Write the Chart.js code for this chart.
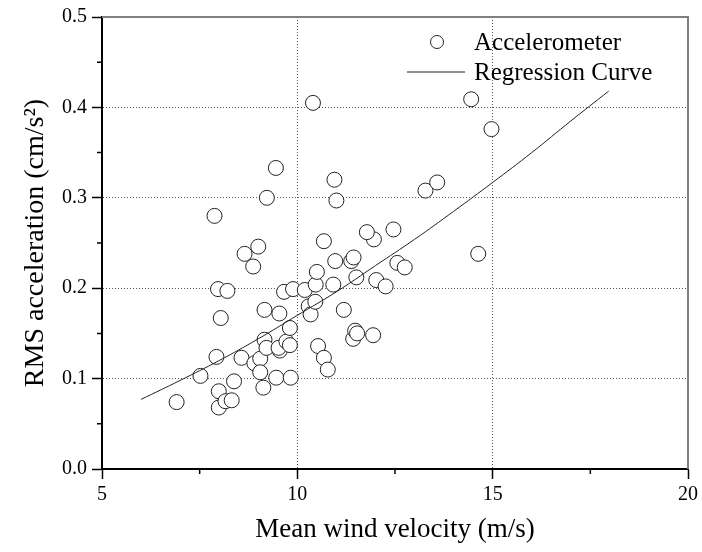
<!DOCTYPE html>
<html>
<head>
<meta charset="utf-8">
<script src="https://cdn.jsdelivr.net/npm/chart.js@4.4.1/dist/chart.umd.min.js"></script>
<style>
  html, body { margin: 0; padding: 0; background: #fff; }
  #chart { display: block; }
</style>
</head>
<body>
<canvas id="chart" width="702" height="552"></canvas>
<script>
// measured points (mean wind velocity m/s, RMS acceleration cm/s^2)
const windSpeed = [
  6.91, 7.52, 7.93, 7.97, 8.21, 8.04, 7.99, 7.99, 8.16, 8.32,
  8.38, 8.57, 8.65, 9.00, 8.87, 8.90, 9.05, 9.05, 9.13, 9.16,
  9.21, 9.16, 9.46, 9.54, 9.55, 9.52, 9.72, 9.81, 9.81, 9.83,
  9.66, 9.89, 10.19, 10.29, 10.34, 10.46, 10.47, 10.50, 10.53, 10.68,
  10.78, 10.68, 10.92, 10.97, 11.19, 11.38, 11.44, 11.51, 11.43, 11.48,
  11.53, 11.96, 11.78, 12.02, 12.26, 11.94, 12.56, 12.75, 12.46, 10.40,
  9.45, 9.22, 10.95, 11.00, 7.88, 14.45, 14.97, 13.28, 13.58, 14.63
];
const rmsAccel = [
  0.074, 0.103, 0.124, 0.199, 0.197, 0.167, 0.086, 0.068, 0.075, 0.076,
  0.097, 0.123, 0.238, 0.246, 0.224, 0.117, 0.122, 0.107, 0.090, 0.143,
  0.134, 0.176, 0.101, 0.172, 0.131, 0.134, 0.141, 0.137, 0.156, 0.101,
  0.196, 0.199, 0.198, 0.180, 0.171, 0.185, 0.204, 0.218, 0.136, 0.123,
  0.110, 0.252, 0.204, 0.230, 0.176, 0.230, 0.234, 0.212, 0.144, 0.153,
  0.150, 0.254, 0.262, 0.209, 0.202, 0.148, 0.228, 0.223, 0.265, 0.405,
  0.333, 0.300, 0.320, 0.297, 0.280, 0.409, 0.376, 0.308, 0.317, 0.238
];

// regression curve
const curveX = [6, 7, 8, 9, 10, 11, 12, 13, 14, 15, 16, 17, 17.97];
const curveY = [0.077, 0.098, 0.120, 0.144, 0.170, 0.196, 0.225, 0.254, 0.285, 0.317, 0.350, 0.385, 0.418];

const xTicks = [5, 10, 15, 20];
const xMinor = [7.5, 12.5, 17.5];
const yTicks = [0, 0.1, 0.2, 0.3, 0.4, 0.5];
const yMinor = [0.05, 0.15, 0.25, 0.35, 0.45];

const seriesNames = ['Accelerometer', 'Regression Curve'];

const FONT = "'Liberation Serif', 'Times New Roman', serif";

const gridColor = (ctx) => {
  const s = ctx.scale;
  if (!ctx.tick) return 'rgba(0,0,0,0)';
  return (ctx.tick.value === s.min || ctx.tick.value === s.max) ? 'rgba(0,0,0,0)' : '#555';
};

// minor ticks, top/right frame and the inset legend
const extras = {
  id: 'extras',
  afterDraw(chart) {
    const { ctx, chartArea: a, scales: { x, y } } = chart;
    ctx.save();

    ctx.strokeStyle = '#000';
    ctx.lineWidth = 1.5;
    ctx.beginPath();
    xMinor.forEach(v => {
      const px = x.getPixelForValue(v);
      ctx.moveTo(px, a.bottom);
      ctx.lineTo(px, a.bottom + 5);
    });
    yMinor.forEach(v => {
      const py = y.getPixelForValue(v);
      ctx.moveTo(a.left - 5, py);
      ctx.lineTo(a.left, py);
    });
    ctx.stroke();

    ctx.strokeStyle = '#808080';
    ctx.lineWidth = 2;
    ctx.beginPath();
    ctx.moveTo(a.left, a.top);
    ctx.lineTo(a.right, a.top);
    ctx.lineTo(a.right, a.bottom);
    ctx.stroke();

    // legend
    ctx.font = '25px ' + FONT;
    ctx.textBaseline = 'middle';
    ctx.textAlign = 'left';

    ctx.beginPath();
    ctx.arc(437, 42, 6.5, 0, Math.PI * 2);
    ctx.fillStyle = '#fff';
    ctx.fill();
    ctx.strokeStyle = '#222';
    ctx.lineWidth = 1;
    ctx.stroke();
    ctx.fillStyle = '#000';
    ctx.fillText(seriesNames[0], 474, 43);

    ctx.beginPath();
    ctx.moveTo(407, 72);
    ctx.lineTo(465, 72);
    ctx.stroke();
    ctx.fillText(seriesNames[1], 474, 73);

    ctx.restore();
  }
};

new Chart(document.getElementById('chart'), {
  type: 'scatter',
  data: {
    datasets: [
      {
        type: 'line',
        label: seriesNames[1],
        data: curveX.map((v, i) => ({ x: v, y: curveY[i] })),
        borderColor: '#222',
        borderWidth: 1,
        pointRadius: 0,
        tension: 0.4,
        fill: false,
        order: 0
      },
      {
        label: seriesNames[0],
        data: windSpeed.map((v, i) => ({ x: v, y: rmsAccel[i] })),
        pointRadius: 7.5,
        pointBorderWidth: 1,
        pointBorderColor: '#222',
        pointBackgroundColor: '#fff',
        order: 1
      }
    ]
  },
  options: {
    responsive: false,
    animation: false,
    layout: { padding: { top: 17, right: 11, left: 0, bottom: 0 } },
    plugins: { legend: { display: false }, tooltip: { enabled: false } },
    scales: {
      x: {
        type: 'linear',
        min: xTicks[0],
        max: xTicks[xTicks.length - 1],
        afterBuildTicks: s => { s.ticks = xTicks.map(v => ({ value: v })); },
        afterFit: s => { s.height = 83; },
        ticks: {
          color: '#000',
          font: { family: FONT, size: 20 },
          padding: 4,
          maxRotation: 0,
          autoSkip: false,
          callback: v => String(v)
        },
        grid: {
          color: gridColor,
          lineWidth: 1,
          tickLength: 10,
          tickColor: '#000',
          tickWidth: 1.5
        },
        border: { color: '#000', width: 2, dash: [1, 2] },
        title: {
          display: true,
          text: 'Mean wind velocity (m/s)',
          color: '#000',
          font: { family: FONT, size: 27 },
          padding: { top: 0, bottom: 6 }
        }
      },
      y: {
        type: 'linear',
        min: yTicks[0],
        max: yTicks[yTicks.length - 1],
        afterBuildTicks: s => { s.ticks = yTicks.map(v => ({ value: v })); },
        afterFit: s => { s.width = 102; },
        ticks: {
          color: '#000',
          font: { family: FONT, size: 20 },
          padding: 5,
          autoSkip: false,
          callback: v => Number(v).toFixed(1)
        },
        grid: {
          color: gridColor,
          lineWidth: 1,
          tickLength: 10,
          tickColor: '#000',
          tickWidth: 1.5
        },
        border: { color: '#000', width: 2, dash: [1, 2] },
        title: {
          display: true,
          text: 'RMS acceleration (cm/s²)',
          color: '#000',
          font: { family: FONT, size: 28 },
          padding: { top: 19, bottom: 0 }
        }
      }
    }
  },
  plugins: [extras]
});
</script>
</body>
</html>
